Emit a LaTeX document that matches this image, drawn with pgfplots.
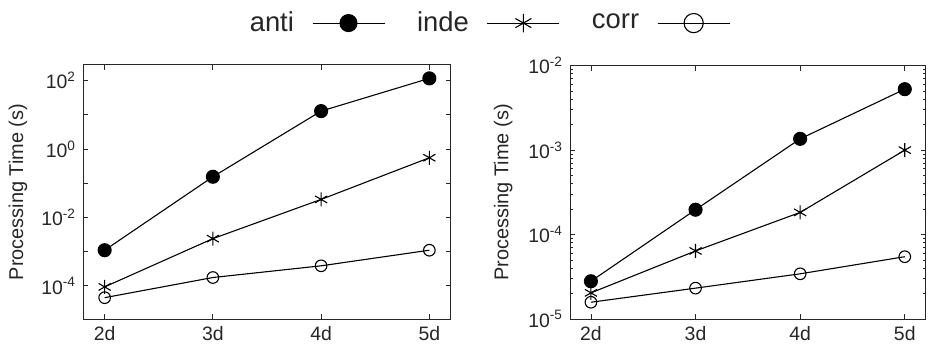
\documentclass[border=0pt]{standalone}
\usepackage{pgfplots}
\pgfplotsset{compat=1.18}
\usepackage{fontspec}
\setmainfont{Liberation Sans}
\definecolor{txt}{HTML}{262626}
\begin{document}
\begin{tikzpicture}
\useasboundingbox (-41.5bp,-15bp) rectangle (422.5bp,159.5bp);
\begin{axis}[
  scale only axis,
  xmin=1.8, xmax=5.2,
  xtick={2,3,4,5},
  xticklabels={2d,3d,4d,5d},
  ymode=log,
  tick align=inside,
  major tick length=2.5bp,
  minor tick length=1.5bp,
  axis line style={line width=0.5bp, color=black!85},
  tick style={line width=0.4bp, color=black!85},
  tick label style={font=\fontsize{9.75}{11}\selectfont, color=txt},
  label style={font=\fontsize{10}{12}\selectfont, color=txt},
  at={(0bp,0bp)}, anchor=south west,
  width=184bp, height=127bp,
  ymin=1.07e-5, ymax=288,
  ytick={1e-4,1e-3,1e-2,1e-1,1,10,100},
  yticklabels={10\textsuperscript{-4},,10\textsuperscript{-2},,10\textsuperscript{0},,10\textsuperscript{2}},
  yminorticks=false,
  ylabel={Processing Time (s)},
  ylabel style={at={(axis description cs:-0.1766,0.5)}, anchor=center},
  legend columns=3,
  legend plot pos=right,
  legend image code/.code={\draw[mark repeat=2,mark phase=2] plot coordinates {(0bp,0bp) (18bp,0bp) (36bp,0bp)};},
  legend style={at={(axis description cs:1.106,1.165)}, anchor=center, draw=none, fill=none,
    font=\fontsize{13.75}{16}\selectfont, text=txt,
    nodes={inner sep=0pt},
    /tikz/every odd column/.append style={column sep=9bp},
    /tikz/every even column/.append style={column sep=16bp}},
]
\addplot[line width=0.55bp, black, mark=*, mark size=3.25bp, mark options={fill=black}, legend image post style={mark size=4.25bp}] coordinates {(2,1.1e-3) (3,0.155) (4,12.9) (5,117)};
\addlegendentry{anti}
\addplot[line width=0.55bp, black, mark=asterisk, mark size=3.5bp, legend image post style={mark size=4.6bp}] coordinates {(2,9.3e-5) (3,2.4e-3) (4,0.0337) (5,0.557)};
\addlegendentry{inde}
\addplot[line width=0.55bp, black, mark=o, mark size=2.9bp, legend image post style={mark size=4.8bp}] coordinates {(2,4.5e-5) (3,1.75e-4) (4,3.85e-4) (5,1.1e-3)};
\addlegendentry{corr}
\end{axis}
\begin{axis}[
  scale only axis,
  xmin=1.8, xmax=5.2,
  xtick={2,3,4,5},
  xticklabels={2d,3d,4d,5d},
  ymode=log,
  tick align=inside,
  major tick length=2.5bp,
  minor tick length=1.5bp,
  axis line style={line width=0.5bp, color=black!85},
  tick style={line width=0.4bp, color=black!85},
  tick label style={font=\fontsize{9.75}{11}\selectfont, color=txt},
  label style={font=\fontsize{10}{12}\selectfont, color=txt},
  at={(243.5bp,0bp)}, anchor=south west,
  width=177.85bp, height=126.65bp,
  ymin=1e-5, ymax=1e-2,
  ytick={1e-5,1e-4,1e-3,1e-2},
  yticklabels={10\textsuperscript{-5},10\textsuperscript{-4},10\textsuperscript{-3},10\textsuperscript{-2}},
  ylabel={Processing Time (s)},
  ylabel style={at={(axis description cs:-0.188,0.5)}, anchor=center},
]
\addplot[line width=0.55bp, black, mark=*, mark size=3.25bp, mark options={fill=black}] coordinates {(2,2.8e-5) (3,1.97e-4) (4,1.36e-3) (5,5.27e-3)};
\addplot[line width=0.55bp, black, mark=asterisk, mark size=3.5bp] coordinates {(2,2.04e-5) (3,6.4e-5) (4,1.83e-4) (5,1e-3)};
\addplot[line width=0.55bp, black, mark=o, mark size=2.9bp] coordinates {(2,1.58e-5) (3,2.32e-5) (4,3.43e-5) (5,5.47e-5)};
\end{axis}
\end{tikzpicture}
\end{document}
